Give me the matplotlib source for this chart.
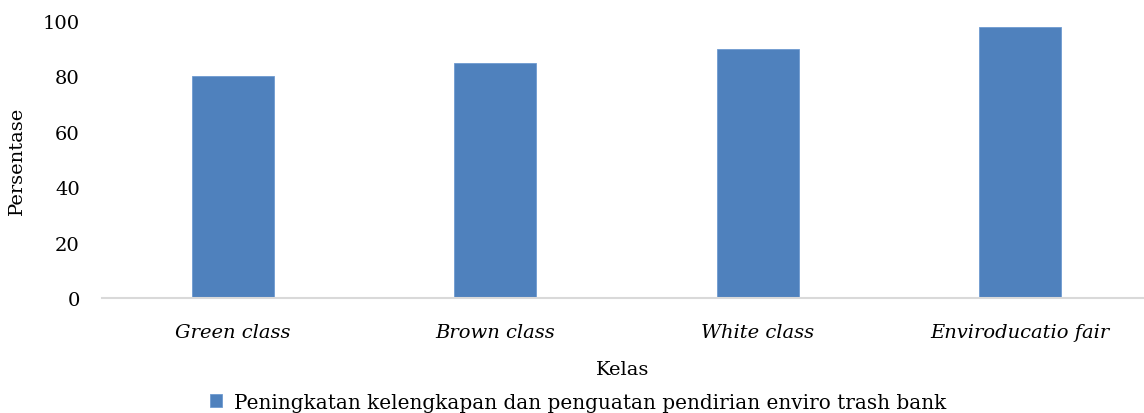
import matplotlib
matplotlib.use("Agg")
import matplotlib.pyplot as plt
import numpy as np

# kelas vs persentase
categories = ["Green class", "Brown class", "White class", "Enviroducatio fair"]
values = [80, 85, 90, 98]
series_name = "Peningkatan kelengkapan dan penguatan pendirian enviro trash bank"
yticks = [0, 20, 40, 60, 80, 100]

plt.rcParams['font.family'] = ['DejaVu Serif']

W, H = 1144, 414
fig = plt.figure(figsize=(W / 100, H / 100), dpi=100)
ax = fig.add_axes([102 / W, 115 / H, (1143 - 102) / W, (299 - 22) / H])

x = np.arange(len(categories))
ax.bar(x, values, width=0.313, color='#4f81bd', edgecolor='#6f9bd1', linewidth=0.6,
       label=series_name, zorder=2)

ax.set_xlim(-0.5, 3.469)
ax.set_ylim(0, 100)
ax.set_yticks(yticks)
ax.set_yticklabels([str(v) for v in yticks], fontsize=14)
ax.set_xticks(x)
ax.set_xticklabels(categories, fontsize=14, style='italic')
ax.tick_params(axis='both', length=0)
ax.tick_params(axis='y', pad=16)
ax.tick_params(axis='x', pad=18)

for s in ['top', 'right', 'left']:
    ax.spines[s].set_visible(False)
ax.spines['bottom'].set_color('#d9d9d9')
ax.spines['bottom'].set_linewidth(1.5)

ax.set_ylabel("Persentase", fontsize=14, labelpad=12)
ax.set_xlabel("Kelas", fontsize=14, labelpad=14)

ax.legend(loc='lower center', bbox_to_anchor=(0.457, -0.475), frameon=False,
          fontsize=14.4, handlelength=0.6, handleheight=0.6, handletextpad=0.6)

fig.savefig("out.png", dpi=100)
